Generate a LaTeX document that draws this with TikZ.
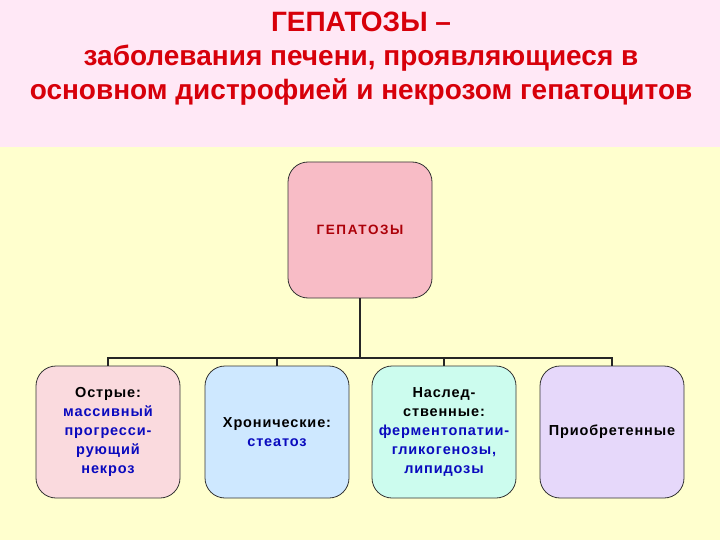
\documentclass[tikz,border=0pt]{standalone}
\usepackage{fontspec}
\setmainfont{Liberation Sans}
\usetikzlibrary{positioning}
\definecolor{TopPink}{RGB}{255,232,246}
\definecolor{BackYellow}{RGB}{255,255,206}
\definecolor{TitleRed}{RGB}{215,0,10}
\definecolor{RootPink}{RGB}{248,188,198}
\definecolor{AcutePink}{RGB}{250,218,222}
\definecolor{ChronBlue}{RGB}{206,232,255}
\definecolor{InherCyan}{RGB}{204,252,238}
\definecolor{AcqLilac}{RGB}{230,216,250}
\definecolor{TextBlue}{RGB}{10,10,190}
\tikzset{
    % rounded boxes of the tree
    kind/.style={
        rectangle,
        rounded corners=20pt,
        draw=black!80,
        line width=0.8pt,
        minimum width=144pt,
        minimum height=132pt,
        align=center,
        inner sep=2pt,
        font=\fontsize{14.5}{19}\selectfont\bfseries\addfontfeature{LetterSpace=6}
    },
    root/.style={
        kind,
        fill=RootPink,
        minimum height=136pt,
        text=TitleRed!80!black,
        font=\fontsize{13.5}{19}\selectfont\bfseries\addfontfeature{LetterSpace=12}
    },
    branch/.style={
        line width=2pt,
        draw=black!85
    }
}
\newcommand{\bl}[1]{\textcolor{TextBlue}{#1}}
\begin{document}
\begin{tikzpicture}[x=1pt, y=-1pt]
        % Background
        \fill[BackYellow] (0,0) rectangle (720,540);
        \fill[TopPink] (0,0) rectangle (720,147);
        \useasboundingbox (0,0) rectangle (720,540);

        % Title
        \node[align=center, text=TitleRed, font=\fontsize{28}{34}\selectfont\bfseries] (title) at (361,59)
            {ГЕПАТОЗЫ –\\ заболевания печени, проявляющиеся в\\основном дистрофией и некрозом гепатоцитов};

        % Nodes
        \node[root] (hep) at (360,230) {ГЕПАТОЗЫ};
        \node[kind, fill=AcutePink] (acute) at (108,432) {Острые:\\\bl{массивный}\\\bl{прогресси-}\\\bl{рующий}\\\bl{некроз}};
        \node[kind, fill=ChronBlue] (chron) at (277,432) {Хронические:\\\bl{стеатоз}};
        \node[kind, fill=InherCyan] (inher) at (444,432) {Наслед-\\ственные:\\\bl{ферментопатии-}\\\bl{гликогенозы,}\\\bl{липидозы}};
        \node[kind, fill=AcqLilac] (acq) at (612,432) {Приобретенные};

        % Connectors
        \foreach \child in {acute,chron,inher,acq}
            \draw[branch] (hep.south) -- ++(0,60) -| (\child.north);
    \end{tikzpicture}
\end{document}
